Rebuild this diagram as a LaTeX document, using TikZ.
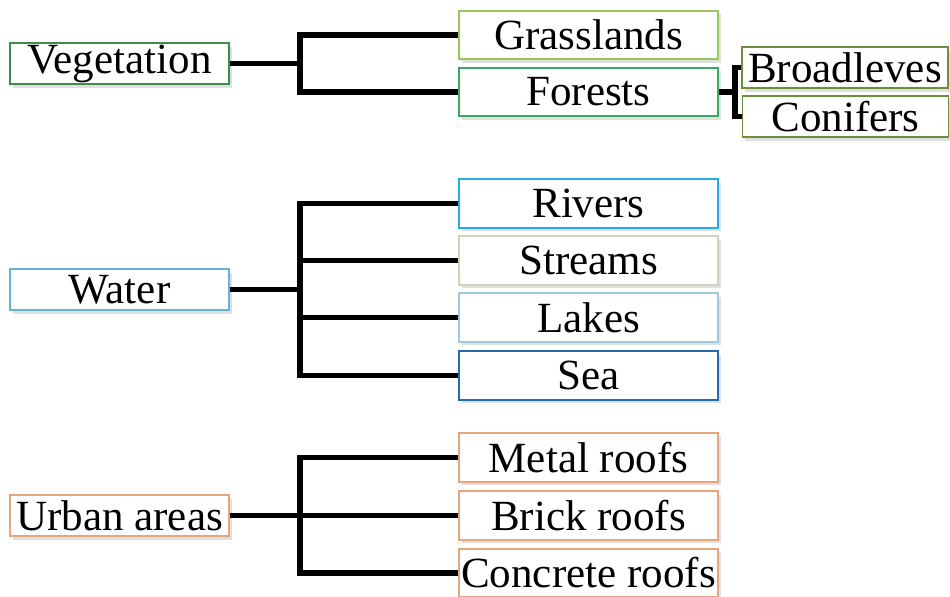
\documentclass[tikz,border=0pt]{standalone}
\usepackage{fontspec}
\setmainfont{Liberation Serif}
\usetikzlibrary{shadows}
\definecolor{leaf}{RGB}{60, 140, 75}
\definecolor{grass}{RGB}{150, 200, 90}
\definecolor{forest}{RGB}{55, 170, 100}
\definecolor{olive}{RGB}{105, 145, 60}
\definecolor{pool}{RGB}{100, 180, 215}
\definecolor{sky}{RGB}{40, 170, 230}
\definecolor{reed}{RGB}{205, 210, 185}
\definecolor{mist}{RGB}{160, 200, 220}
\definecolor{ocean}{RGB}{40, 105, 180}
\definecolor{brick}{RGB}{230, 165, 125}

\begin{document}
\begin{tikzpicture}[x=0.02cm, y=-0.02cm,
    box/.style={draw, fill=white, line width=1pt, inner sep=0pt,
                font=\fontsize{24.5}{28}\selectfont,
                drop shadow={shadow xshift=1.5pt, shadow yshift=-2pt, opacity=0.25}},
    rootbox/.style={box, minimum width=4.38cm, minimum height=0.82cm},
    leafbox/.style={box, minimum width=5.18cm, minimum height=0.97cm},
    subbox/.style={box, minimum width=4.12cm, minimum height=0.82cm},
    link/.style={line width=3pt, line join=miter}]
    \useasboundingbox                                        (0, 0) rectangle (950, 597);
    % vegetation
    \node[rootbox, draw=leaf]   (veg)      at (119.5,  63.5) {Vegetation};
    \node[leafbox, draw=grass]  (grassl)   at (588.5,  35.0) {Grasslands};
    \node[leafbox, draw=forest] (forests)  at (588.5,  92.0) {Forests};
    \node[subbox,  draw=olive]  (broad)    at (845.0,  67.5) {Broadleves};
    \node[subbox,  draw=olive]  (conif)    at (845.5, 116.5) {Conifers};
    % water
    \node[rootbox, draw=pool]   (water)    at (119.5, 289.5) {Water};
    \node[leafbox, draw=sky]    (rivers)   at (588.5, 203.5) {Rivers};
    \node[leafbox, draw=reed]   (streams)  at (588.5, 260.5) {Streams};
    \node[leafbox, draw=mist]   (lakes)    at (588.5, 317.5) {Lakes};
    \node[leafbox, draw=ocean]  (sea)      at (588.5, 375.5) {Sea};
    % urban areas
    \node[rootbox, draw=brick]  (urban)    at (119.5, 515.5) {Urban areas};
    \node[leafbox, draw=brick]  (metal)    at (588.5, 457.5) {Metal roofs};
    \node[leafbox, draw=brick]  (brickr)   at (588.5, 515.5) {Brick roofs};
    \node[leafbox, draw=brick]  (concrete) at (588.5, 573.0) {Concrete roofs};

    \coordinate (vegj)   at (300,  63.5);
    \coordinate (forj)   at (735,  92.0);
    \coordinate (waterj) at (300, 289.5);
    \coordinate (urbanj) at (300, 515.5);

    \draw[link] (veg.east)    -- (vegj);
    \draw[link] (grassl.west) -| (vegj) |- (forests.west);
    \draw[link] (forests.east) -- (forj);
    \draw[link] (broad.west)  -| (forj) |- (conif.west);

    \draw[link] (water.east)  -- (waterj);
    \draw[link] (rivers.west) -| (waterj) |- (sea.west);
    \draw[link] (streams.west) -- (streams.west -| waterj);
    \draw[link] (lakes.west)   -- (lakes.west -| waterj);

    \draw[link] (urban.east)  -- (brickr.west);
    \draw[link] (metal.west)  -| (urbanj) |- (concrete.west);
\end{tikzpicture}
\end{document}
